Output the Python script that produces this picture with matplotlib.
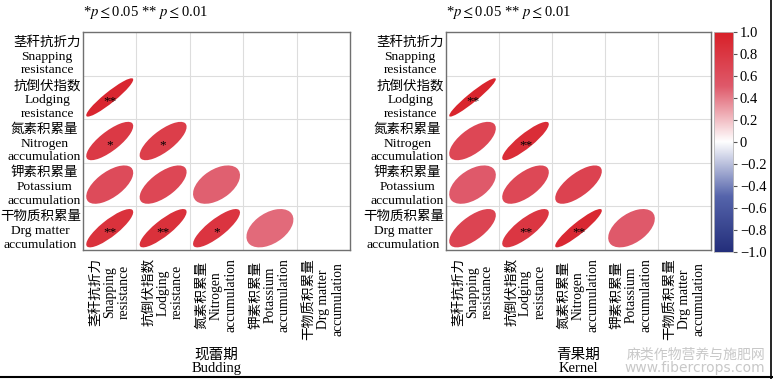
import numpy as np
import matplotlib
matplotlib.use("Agg")
import matplotlib.pyplot as plt
from matplotlib.patches import Ellipse
from matplotlib.colors import LinearSegmentedColormap, Normalize
from matplotlib.lines import Line2D

plt.rcParams['font.family'] = ['Liberation Serif', 'Noto Sans CJK SC']
plt.rcParams['mathtext.fontset'] = 'stix'
plt.rcParams['axes.unicode_minus'] = True

# ------------------------------
# 数据（下三角，按行：行 i 对列 0..i-1）
# ------------------------------
var_labels = [
    "茎秆抗折力\nSnapping\nresistance",
    "抗倒伏指数\nLodging\nresistance",
    "氮素积累量\nNitrogen\naccumulation",
    "钾素积累量\nPotassium\naccumulation",
    "干物质积累量\nDrg matter\naccumulation",
]
stage_labels = ["现蕾期\nBudding", "青果期\nKernel"]

r_budding = [
    [],
    [0.93],
    [0.78, 0.74],
    [0.62, 0.66, 0.48],
    [0.84, 0.85, 0.82, 0.45],
]
sig_budding = [
    [],
    ["**"],
    ["*", "*"],
    ["", "", ""],
    ["**", "**", "*", ""],
]

r_kernel = [
    [],
    [0.95],
    [0.66, 0.88],
    [0.50, 0.65, 0.70],
    [0.68, 0.80, 0.92, 0.50],
]
sig_kernel = [
    [],
    ["**"],
    ["", "**"],
    ["", "", ""],
    ["", "**", "**", ""],
]

cbar_ticks = [1.0, 0.8, 0.6, 0.4, 0.2, 0.0, -0.2, -0.4, -0.6, -0.8, -1.0]

cmap = LinearSegmentedColormap.from_list(
    "bwr_corr",
    [(0.0, "#242f7b"), (0.25, "#5564ab"), (0.5, "#ffffff"),
     (0.75, "#df5a6b"), (1.0, "#d81f27")])
norm = Normalize(-1, 1)

fig = plt.figure(figsize=(7.73, 3.79), dpi=100)

ax_pos = [[0.1074, 0.3404, 0.3454, 0.575],
          [0.5770, 0.3404, 0.3428, 0.575]]

n = len(var_labels)
s = 0.44


def draw_panel(ax, rvals, sigs, stage):
    ax.set_xlim(0, n)
    ax.set_ylim(n, 0)
    for k in range(1, n):
        ax.axhline(k, color="#dddddd", lw=0.8, zorder=0)
        ax.axvline(k, color="#dddddd", lw=0.8, zorder=0)
    for i in range(n):
        for j, r in enumerate(rvals[i]):
            e = Ellipse((j + 0.5, i + 0.5),
                        width=2 * s * np.sqrt(1 + r),
                        height=2 * s * np.sqrt(1 - r),
                        angle=-45,
                        facecolor=cmap(norm(r)), edgecolor="none", zorder=2)
            ax.add_patch(e)
            if sigs[i][j]:
                ax.text(j + 0.5, i + 0.6, sigs[i][j], ha="center", va="center",
                        fontsize=9.5, color="black", zorder=3)
    ax.set_xticks(np.arange(n) + 0.5)
    ax.set_yticks(np.arange(n) + 0.5)
    ax.set_xticklabels(var_labels, rotation=90, fontsize=9.8,
                       ha="center", va="top", multialignment="center",
                       linespacing=1.12)
    ax.set_yticklabels(var_labels, fontsize=9.7, ha="right",
                       multialignment="center", linespacing=1.2)
    ax.tick_params(length=0, pad=1.5)
    ax.tick_params(axis="x", pad=6)
    for sp in ax.spines.values():
        sp.set_color("#707070")
        sp.set_linewidth(1.0)
    ax.set_xlabel(stage, fontsize=10.5, labelpad=6, linespacing=1.05)
    ax.text(0.0, 1.09, r"*$p\leq$0.05 ** $p\leq$0.01", transform=ax.transAxes,
            ha="left", va="center", fontsize=10.5)


draw_panel(fig.add_axes(ax_pos[0]), r_budding, sig_budding, stage_labels[0])
draw_panel(fig.add_axes(ax_pos[1]), r_kernel, sig_kernel, stage_labels[1])

# 色标
cax = fig.add_axes([0.9237, 0.335, 0.0246, 0.581])
grad = np.linspace(-1, 1, 256).reshape(-1, 1)
cax.imshow(grad, aspect="auto", cmap=cmap, norm=norm, origin="lower",
           extent=[0, 1, -1, 1])
cax.set_xticks([])
cax.yaxis.tick_right()
cax.set_yticks(cbar_ticks)
cax.set_yticklabels(["0" if t == 0 else f"{t:.1f}".replace("-", "\u2212")
                     for t in cbar_ticks], fontsize=10.5)
cax.tick_params(axis="y", length=3, width=0.8, pad=2, color="#555555")
for sp in cax.spines.values():
    sp.set_color("#bbbbbb")
    sp.set_linewidth(0.6)

# 水印与边框
fig.text(0.99, 0.065, "麻类作物营养与施肥网", ha="right", va="center",
         fontsize=10, color="#c8c8c8", family=["Noto Sans CJK SC"])
fig.text(0.99, 0.028, "www.fibercrops.com", ha="right", va="center",
         fontsize=10, color="#c8c8c8", family=["DejaVu Sans"])
fig.add_artist(Line2D([0, 1], [0.005, 0.005], color="black", lw=1.5,
                      transform=fig.transFigure))
fig.add_artist(Line2D([0.997, 0.997], [0, 1], color="black", lw=1.2,
                      transform=fig.transFigure))

fig.savefig("out.png", dpi=100)
